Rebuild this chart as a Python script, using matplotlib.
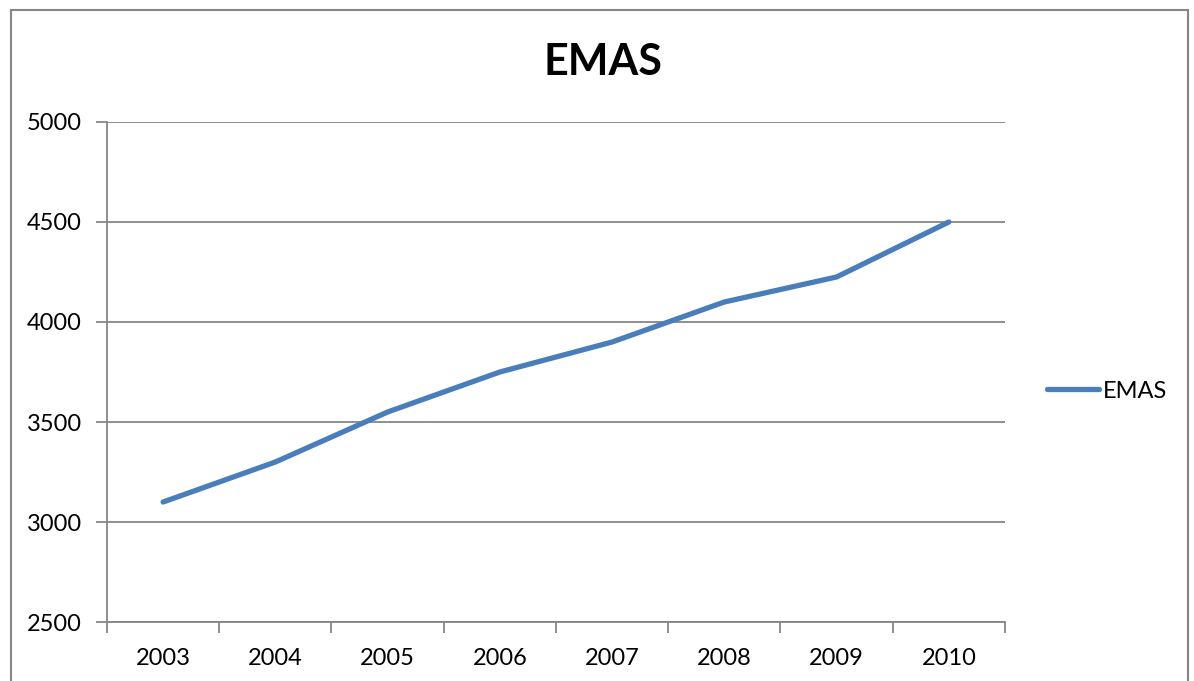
import matplotlib
matplotlib.use("Agg")
import matplotlib.pyplot as plt
from matplotlib.lines import Line2D
from matplotlib.patches import Rectangle

plt.rcParams['font.family'] = ['Lato', 'DejaVu Sans']

years = ['2003', '2004', '2005', '2006', '2007', '2008', '2009', '2010']
emas = [3100, 3300, 3550, 3750, 3900, 4100, 4225, 4500]
yticks = [2500, 3000, 3500, 4000, 4500, 5000]

grey = '#868686'
blue = '#4a7ebb'

fig = plt.figure(figsize=(11.94, 6.81), dpi=100)
ax = fig.add_axes([0.0896, 0.0866, 0.7521, 0.7343])

# chart frame
fig.patches.append(Rectangle((11 / 1194, -0.1), (1188 - 11) / 1194, 1.1 - 10 / 681,
                             transform=fig.transFigure, fill=False,
                             edgecolor=grey, linewidth=1.5))

x = list(range(len(years)))
ax.plot(x, emas, color=blue, linewidth=3.8, solid_capstyle='round',
        solid_joinstyle='round', label='EMAS')

ax.set_xlim(-0.5, len(years) - 0.5)
ax.set_ylim(2500, 5000)
ax.set_yticks(yticks)
ax.set_yticklabels([str(v) for v in yticks], fontsize=17)
ax.yaxis.grid(True, color=grey, linewidth=1.3)
ax.set_axisbelow(True)

# category labels centred, tick marks on the boundaries
ax.set_xticks(x)
ax.set_xticklabels(years, fontsize=17)
ax.tick_params(axis='x', length=0, pad=19)
ax.set_xticks([i - 0.5 for i in range(len(years) + 1)], minor=True)
ax.tick_params(axis='x', which='minor', direction='out', length=8, width=1.3,
               color=grey, top=False, bottom=True)
ax.tick_params(axis='y', length=8, width=1.3, color=grey, pad=10)

for s in ['top', 'right']:
    ax.spines[s].set_visible(False)
for s in ['left', 'bottom']:
    ax.spines[s].set_color(grey)
    ax.spines[s].set_linewidth(1.3)

fig.text(603 / 1194, 1 - 62 / 681, 'EMAS', ha='center', va='center',
         fontsize=31, fontweight='bold')

handle = Line2D([0], [0], color=blue, linewidth=3.8, solid_capstyle='round')
fig.legend(handles=[handle], labels=['EMAS'], loc='center left',
           bbox_to_anchor=(1047 / 1194, 1 - 391 / 681), frameon=False,
           fontsize=17, handlelength=2.2, handletextpad=0.15,
           borderpad=0, borderaxespad=0)

fig.savefig('out.png', dpi=100)
